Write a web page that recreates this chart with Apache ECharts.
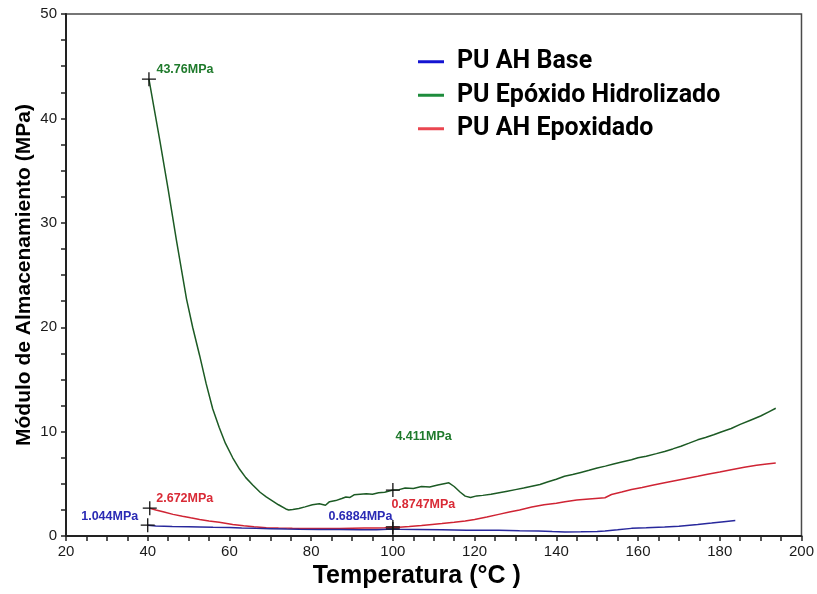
<!DOCTYPE html>
<html>
<head>
<meta charset="utf-8">
<script src="https://cdn.jsdelivr.net/npm/echarts@6/dist/echarts.min.js"></script>
<style>
html,body{margin:0;padding:0;background:#fff;}
#chart{width:817px;height:594px;}
</style>
</head>
<body>
<div id="chart"></div>
<script>
// ---------- DATA ----------
const seriesNames = ['PU AH Base', 'PU Epóxido Hidrolizado', 'PU AH Epoxidado'];

const baseT = [40,42,46,50,52.7,56,60,63,66.5,70,74,77.1,82,87,92,96,100,101.5,106,112,118,125.9,131,135.6,139,142.1,146,150,151.9,155,158.4,162,166.5,170,174.6,178,181,183.8];
const baseV = [1.044,0.97,0.93,0.9,0.88,0.85,0.82,0.78,0.74,0.71,0.67,0.65,0.64,0.63,0.62,0.61,0.6884,0.65,0.63,0.6,0.57,0.55,0.52,0.5,0.44,0.4,0.42,0.45,0.5,0.6,0.74,0.8,0.88,0.95,1.12,1.25,1.38,1.5];

const hidT = [40.3,41.5,43,45,47,49.5,51,52.7,54.3,55.9,57.5,59,60.8,62.5,64,65.7,67.5,69,70.6,72,73.8,74.5,75.5,77,78.5,80.3,82,83.5,84.5,86,87.5,88.5,89.5,90.5,92,93.5,95,96.5,98,100,101.5,103,105,107,109,111,113.7,115,116.5,117.7,119,120.5,122,124,126,128,130,132,134,136,138,140,142,144,146,148,150,152,154,156,158.4,160,162,164.5,166.5,168.5,170.5,172.5,174.6,176.5,178.5,180.5,182.8,185,187.5,190,192,193.7];
const hidV = [43.76,41.1,37.8,33.2,28.4,22.7,20.0,17.3,14.6,12.2,10.4,8.9,7.5,6.4,5.6,4.9,4.2,3.75,3.35,3.0,2.6,2.5,2.55,2.65,2.8,3.0,3.1,2.95,3.3,3.4,3.6,3.75,3.7,3.95,4.0,4.05,4.0,4.15,4.2,4.411,4.45,4.6,4.55,4.75,4.7,4.9,5.1,4.75,4.2,3.83,3.7,3.85,3.9,4.0,4.15,4.3,4.45,4.6,4.78,4.95,5.2,5.45,5.73,5.9,6.1,6.3,6.52,6.7,6.9,7.1,7.31,7.5,7.65,7.9,8.11,8.35,8.6,8.9,9.22,9.45,9.7,10.0,10.3,10.7,11.1,11.5,11.9,12.24];

const epoT = [40.5,42,44,46.2,48.5,50.5,52.7,55,57.5,60.8,63.5,66,69,72,75.4,78,81,84,87,90,93,96,98,100,101.5,104,107,109.6,112,115,117.7,120,123,125.9,128.5,131,134,137,140,142.1,145,148,151.9,153.5,156,158.4,161,163.5,166.5,169,171.5,174.6,177,180,182.8,186,189,191.5,193.7];
const epoV = [2.672,2.5,2.3,2.08,1.9,1.75,1.6,1.45,1.32,1.12,1.0,0.9,0.81,0.77,0.74,0.72,0.72,0.73,0.72,0.75,0.77,0.78,0.8,0.8747,0.85,0.92,1.02,1.12,1.2,1.32,1.45,1.6,1.82,2.08,2.3,2.5,2.78,3.0,3.15,3.29,3.45,3.56,3.67,3.98,4.22,4.46,4.66,4.86,5.1,5.3,5.5,5.73,5.92,6.13,6.36,6.6,6.78,6.9,7.0];

// annotated points: [temperature, value] per series
const baseMarks = [[40, 1.044], [100, 0.6884]];
const hidMarks  = [[40.3, 43.76], [100, 4.411]];
const epoMarks  = [[40.5, 2.672], [100, 0.8747]];

const xTicks = [20, 40, 60, 80, 100, 120, 140, 160, 180, 200];
const yTicks = [0, 10, 20, 30, 40, 50];

// ---------- STYLE ----------
const lineColors   = ['#28289c', '#1c5a24', '#cf2434'];
const legendColors = ['#1414d2', '#1e8c3c', '#ea4650'];
const labelColors  = ['#2a2ab4', '#1f7a2c', '#d92a36'];
// label offsets relative to the marked point: [dx, dy, align]
const baseLabelPos = [[-7, -6, 'right'], [2, -10, 'right']];
const hidLabelPos  = [[10, -7, 'left'], [5, -51, 'left']];
const epoLabelPos  = [[9, -7, 'left'], [1, -20, 'left']];

function zip(t, v) { return t.map((x, i) => [x, v[i]]); }
const plusPath = 'path://M0,7L14,7M7,0L7,14';
function marks(pts, pos, color) {
  return {
    symbol: plusPath,
    symbolSize: 14,
    silent: true,
    itemStyle: { color: 'none', borderColor: '#111', borderWidth: 1.3 },
    data: pts.map((p, i) => ({
      coord: p,
      value: p[1],
      label: {
        show: true,
        formatter: p[1] + 'MPa',
        position: [7 + pos[i][0], 7 + pos[i][1]],
        align: pos[i][2],
        verticalAlign: 'middle',
        color: color,
        fontSize: 12.5,
        fontWeight: 'bold',
        fontFamily: 'Liberation Sans, Arial, sans-serif'
      }
    }))
  };
}

const chart = echarts.init(document.getElementById('chart'), null, { renderer: 'canvas' });
const axisFont = { fontFamily: 'Liberation Sans, Arial, sans-serif', fontSize: 15, color: '#1a1a1a' };

chart.setOption({
  animation: false,
  backgroundColor: '#fff',
  grid: { left: 66, right: 14, top: 14, bottom: 55.5, show: true, borderColor: '#4a4a4a', borderWidth: 1.5, backgroundColor: 'transparent' },
  legend: {
    orient: 'vertical',
    left: 418, top: 45,
    padding: 0,
    itemGap: 0,
    icon: 'rect',
    itemWidth: 26, itemHeight: 3,
    data: seriesNames.map((n, i) => ({ name: n, itemStyle: { color: legendColors[i] } })),
    textStyle: { fontFamily: 'Roboto, Liberation Sans, Arial, sans-serif', fontWeight: 'bold', fontSize: 25, lineHeight: 29.5, color: '#000', padding: [4, 0, 0, 8] }
  },
  xAxis: {
    type: 'value', min: xTicks[0], max: xTicks[xTicks.length - 1], interval: 20,
    name: 'Temperatura (°C )', nameLocation: 'middle', nameGap: 27,
    nameTextStyle: { fontFamily: 'Liberation Sans, Arial, sans-serif', fontWeight: 'bold', fontSize: 25, color: '#000', padding: [0, 34, 0, 0] },
    axisLine: { onZero: false, lineStyle: { color: '#222', width: 2 } },
    axisTick: { length: 5, lineStyle: { color: '#222', width: 1.5 } },
    minorTick: { show: true, splitNumber: 4, length: 5, lineStyle: { color: '#222', width: 1.5 } },
    axisLabel: Object.assign({ margin: 8 }, axisFont),
    splitLine: { show: false }
  },
  yAxis: {
    type: 'value', min: yTicks[0], max: yTicks[yTicks.length - 1], interval: 10,
    name: 'Módulo de Almacenamiento (MPa)', nameLocation: 'middle', nameGap: 31,
    nameMoveOverlap: false,
    nameTextStyle: { fontFamily: 'Liberation Sans, Arial, sans-serif', fontWeight: 'bold', fontSize: 21, color: '#000' },
    axisLine: { show: true, lineStyle: { color: '#222', width: 2 } },
    axisTick: { show: true, length: 5, lineStyle: { color: '#222', width: 1.5 } },
    minorTick: { show: true, splitNumber: 4, length: 5, lineStyle: { color: '#222', width: 1.5 } },
    axisLabel: Object.assign({ margin: 9 }, axisFont),
    splitLine: { show: false }
  },
  series: [
    { name: seriesNames[0], type: 'line', data: zip(baseT, baseV), showSymbol: false, symbol: 'none',
      lineStyle: { color: lineColors[0], width: 1.5 }, itemStyle: { color: lineColors[0] },
      markPoint: marks(baseMarks, baseLabelPos, labelColors[0]), z: 3 },
    { name: seriesNames[1], type: 'line', data: zip(hidT, hidV), showSymbol: false, symbol: 'none',
      lineStyle: { color: lineColors[1], width: 1.5 }, itemStyle: { color: lineColors[1] },
      markPoint: marks(hidMarks, hidLabelPos, labelColors[1]), z: 2 },
    { name: seriesNames[2], type: 'line', data: zip(epoT, epoV), showSymbol: false, symbol: 'none',
      lineStyle: { color: lineColors[2], width: 1.5 }, itemStyle: { color: lineColors[2] },
      markPoint: marks(epoMarks, epoLabelPos, labelColors[2]), z: 2 }
  ]
});
</script>
</body>
</html>
